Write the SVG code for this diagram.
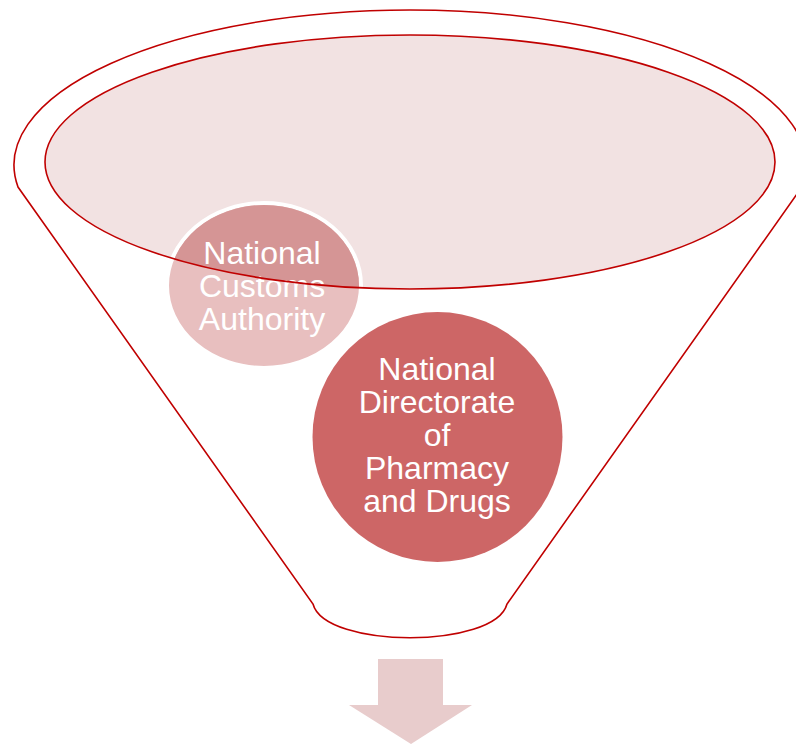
<svg xmlns="http://www.w3.org/2000/svg" width="796" height="748" viewBox="0 0 796 748">
<style>
.ln{fill:none;stroke:#c00000;stroke-width:1.6}
.t{font-family:"Liberation Sans",Arial,sans-serif;font-size:32px;fill:#ffffff;text-anchor:middle}
</style>
<defs>
<clipPath id="ec"><ellipse cx="410" cy="162" rx="365" ry="127"/></clipPath>
</defs>
<rect width="796" height="748" fill="#ffffff"/>
<g id="funnel">
<path class="ln" d="M18 187 A396 155 0 1 1 802 187 L507 604 C495 649 325 649 313 604 Z" fill="#ffffff"/>
<ellipse cx="410" cy="162" rx="365" ry="127" fill="#f2e2e2"/>
</g>
<g id="customs">
<ellipse cx="264" cy="285.5" rx="97" ry="82.5" fill="#e8bfbf" stroke="#ffffff" stroke-width="4"/>
<ellipse cx="264" cy="285.5" rx="95" ry="80.5" fill="#d59595" clip-path="url(#ec)"/>
<text class="t"><tspan x="262" y="264">National</tspan><tspan x="262" y="297">Customs</tspan><tspan x="262" y="330">Authority</tspan></text>
</g>
<g id="rim">
<ellipse class="ln" cx="410" cy="162" rx="365" ry="127"/>
</g>
<g id="pharmacy">
<circle cx="437.5" cy="437" r="125" fill="#cd6666"/>
<text class="t"><tspan x="437" y="380">National</tspan><tspan x="437" y="413">Directorate</tspan><tspan x="437" y="446">of</tspan><tspan x="437" y="479">Pharmacy</tspan><tspan x="437" y="512">and Drugs</tspan></text>
</g>
<g id="connectors">
<path d="M378 659 H443 V705 H472 L411 744 L349 705 H378 Z" fill="#e8cccc"/>
</g>
</svg>
